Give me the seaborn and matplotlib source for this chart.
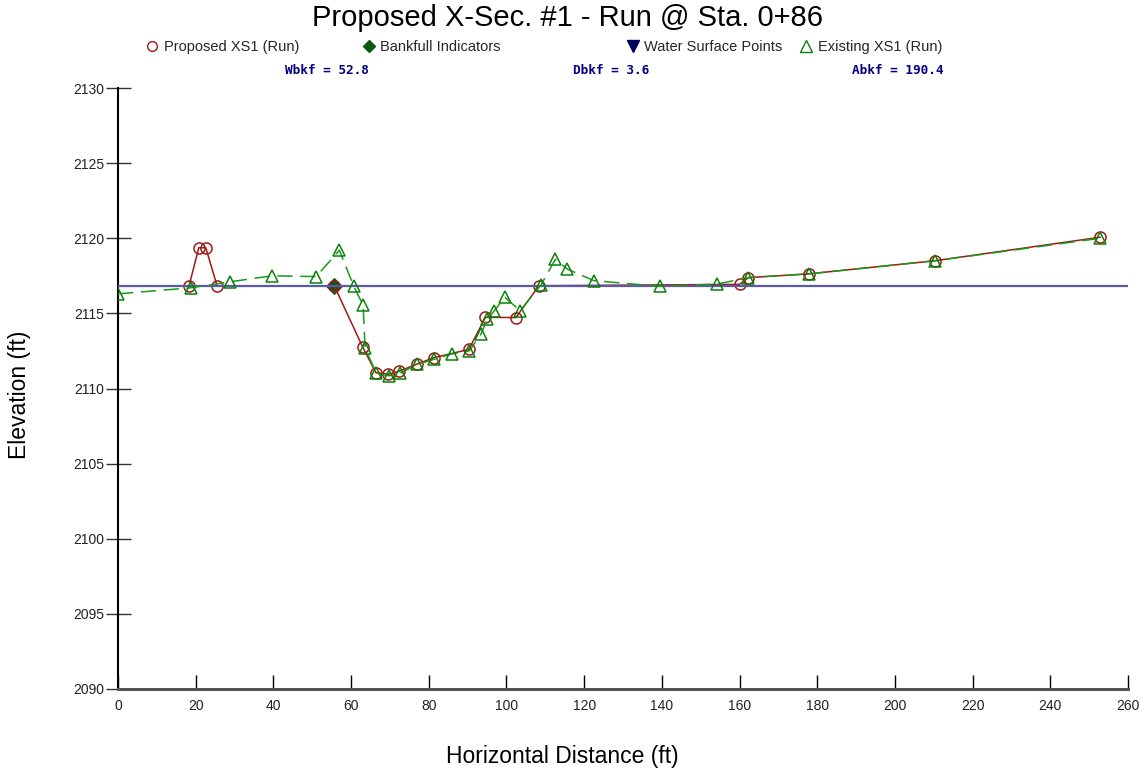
import matplotlib
matplotlib.use("Agg")
import matplotlib.pyplot as plt
from matplotlib.lines import Line2D
import seaborn as sns

# Proposed cross-section (red circles, solid line)
prop_x = [18.3, 20.8, 22.6, 25.5, 55.7, 63.0, 66.4, 69.6, 72.4, 77.0, 81.3, 90.3, 94.6,
          102.4, 108.4, 160.0, 162.3, 177.8, 210.2, 252.9]
prop_y = [2116.84, 2119.37, 2119.37, 2116.84, 2116.82, 2112.75, 2111.05, 2110.95, 2111.15,
          2111.63, 2112.05, 2112.6, 2114.74, 2114.72, 2116.84, 2116.93, 2117.38, 2117.63,
          2118.5, 2120.07]

# Existing cross-section (green triangles, dashed line)
exist_x = [0.0, 18.7, 28.8, 39.6, 51.0, 57.0, 60.7, 63.1, 63.6, 66.5, 69.8, 72.5, 77.0, 81.3,
           85.9, 90.4, 93.4, 95.0, 96.9, 99.6, 103.5, 108.9, 112.6, 115.7, 122.5, 139.4,
           154.2, 162.3, 177.8, 210.2, 252.9]
exist_y = [2116.3, 2116.7, 2117.1, 2117.5, 2117.45, 2119.2, 2116.8, 2115.55, 2112.7, 2111.0,
           2110.85, 2111.0, 2111.6, 2111.94, 2112.3, 2112.5, 2113.6, 2114.6, 2115.18, 2116.07,
           2115.18, 2116.9, 2118.6, 2117.94, 2117.18, 2116.8, 2116.95, 2117.38, 2117.63,
           2118.5, 2120.0]

# Bankfull indicator and water surface
bkf_x = [55.7]
bkf_y = [2116.82]
ws_x = [0, 260]
ws_y = [2116.8, 2116.8]

stats = ["Wbkf = 52.8", "Dbkf = 3.6", "Abkf = 190.4"]
x_ticks = list(range(0, 261, 20))
y_ticks = list(range(2090, 2131, 5))

sns.set_theme(style="white")
plt.rcParams['font.family'] = ['Liberation Sans', 'DejaVu Sans']

fig = plt.figure(figsize=(11.46, 7.74), dpi=100)
ax = fig.add_axes([118 / 1146, 1 - 689 / 774, 1010 / 1146, 601 / 774])

sns.lineplot(x=bkf_x, y=bkf_y, ax=ax, marker='D', linestyle='none', ms=8,
             mfc='#0b5a14', mec='#0b5a14', zorder=3)
sns.lineplot(x=prop_x, y=prop_y, ax=ax, sort=False, estimator=None, color='#a01818',
             linewidth=1.1, marker='o', ms=8, mfc='none', mec='#a01818', mew=1.1, zorder=4)
sns.lineplot(x=ws_x, y=ws_y, ax=ax, color='#5a5aa8', linewidth=1.6, zorder=4.5)
sns.lineplot(x=exist_x, y=exist_y, ax=ax, sort=False, estimator=None, color='#1a9a1a',
             linewidth=1.1, dashes=False, linestyle=(0, (10, 5)), marker='^', ms=9,
             mfc='none', mec='#0a800a', mew=1.1, zorder=5)

ax.set_xlim(0, 260)
ax.set_ylim(2090, 2130)
ax.set_xticks(x_ticks)
ax.set_yticks(y_ticks)
ax.tick_params(axis='x', bottom=True, direction='in', length=10, width=1, color='black',
               labelsize=10, labelcolor='#222222', pad=7)
ax.tick_params(axis='y', left=True, direction='inout', length=18, width=1, color='#333333',
               labelsize=10, labelcolor='#222222', pad=1)
for s in ['top', 'right']:
    ax.spines[s].set_visible(False)
ax.spines['left'].set_color('black')
ax.spines['left'].set_linewidth(1.5)
ax.spines['bottom'].set_color('#555555')
ax.spines['bottom'].set_linewidth(2.2)

ax.set_xlabel('Horizontal Distance (ft)', fontsize=16.5, color='black')
ax.xaxis.set_label_coords(562 / 1146, 1 - 745 / 774, transform=fig.transFigure)
ax.set_ylabel('Elevation (ft)', fontsize=16.5, color='black')
ax.yaxis.set_label_coords(31 / 1146, 1 - 395 / 774, transform=fig.transFigure)

fig.text(567 / 1146, 1 - 18 / 774, 'Proposed X-Sec. #1 - Run @ Sta. 0+86',
         fontsize=21, ha='center', va='center', color='black')

# legend entries laid out like the source program's header
entries = [
    (Line2D([], [], marker='o', ls='none', ms=7, mfc='none', mec='#a01818'), 'Proposed XS1 (Run)', 152),
    (Line2D([], [], marker='D', ls='none', ms=6, mfc='#0b5a14', mec='#0b5a14'), 'Bankfull Indicators', 369),
    (Line2D([], [], marker='v', ls='none', ms=8, mfc='#000060', mec='#000060'), 'Water Surface Points', 633),
    (Line2D([], [], marker='^', ls='none', ms=8, mfc='none', mec='#0a800a'), 'Existing XS1 (Run)', 806),
]
for h, lab, px in entries:
    fig.legend([h], [lab], loc='center left', bbox_to_anchor=((px - 6) / 1146, 1 - 47 / 774),
               frameon=False, fontsize=10.5, handlelength=0.8, handletextpad=0.4,
               borderpad=0, borderaxespad=0)

for txt, px in zip(stats, [285, 573, 852]):
    fig.text(px / 1146, 1 - 71 / 774, txt, fontsize=9.2, fontweight='bold',
             family='DejaVu Sans Mono', color='#000080', ha='left', va='center')

fig.savefig('out.png', dpi=100)
